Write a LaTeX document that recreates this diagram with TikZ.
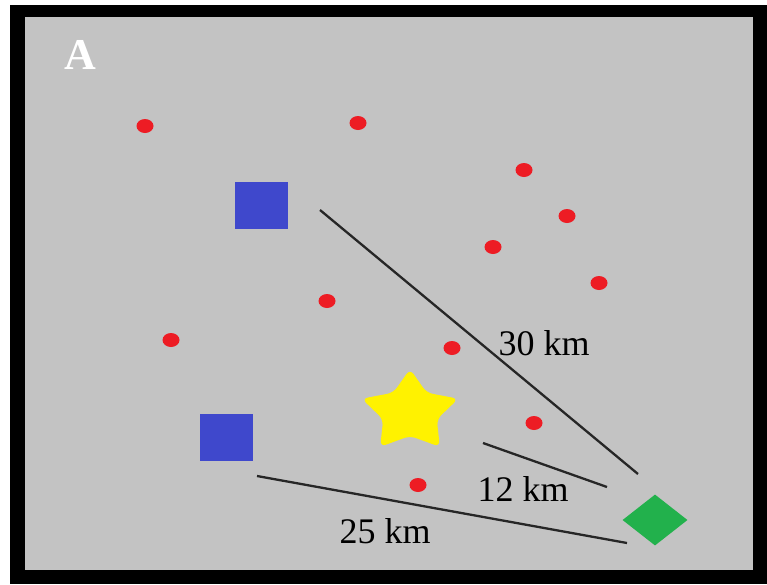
\documentclass[tikz,border=0pt]{standalone}
\usepackage{fontspec}
\setmainfont{Liberation Serif}
\usepackage{xcolor}
\usetikzlibrary{shapes.geometric}
\definecolor{paintgray}{RGB}{195,195,195}
\definecolor{paintred}{RGB}{237,28,36}
\definecolor{paintblue}{RGB}{63,72,204}
\definecolor{paintyellow}{RGB}{255,242,0}
\definecolor{paintgreen}{RGB}{34,177,76}

\begin{document}
\begin{tikzpicture}[x=1pt, y=-1pt,
  plant/.style={ellipse, fill=paintred, minimum width=17pt, minimum height=14pt, inner sep=0pt},
  site/.style={rectangle, fill=paintblue, minimum width=53pt, minimum height=47pt, inner sep=0pt},
  route/.style={line width=2.3pt, black!85},
  dist/.style={font=\fontsize{36}{40}\selectfont, inner sep=0pt}]
  \useasboundingbox (0,0) rectangle (767,584);
  \fill[black] (10,5) rectangle (767,584);
  \fill[paintgray] (25,17) rectangle (753,570);
  \node[text=white, font=\fontsize{44}{48}\selectfont\bfseries, inner sep=0pt] (panel) at (80,55) {A};
  \foreach \px/\py [count=\i] in {145/126, 358/123, 524/170, 567/216, 493/247, 599/283,
                                  327/301, 171/340, 452/348, 534/423, 418/485}
    \node[plant] (p\i) at (\px,\py) {};
  \node[site] (site1) at (261.5,205) {};
  \node[site] (site2) at (226.5,437.5) {};
  \node[star, star points=5, star point ratio=1.8, minimum size=86pt, inner sep=0pt,
        fill=paintyellow, rounded corners=6pt, xscale=1.18, transform shape] (hub) at (410,412) {};
  \node[diamond, fill=paintgreen, minimum width=65pt, minimum height=51pt, inner sep=0pt] (well) at (655,520) {};
  \coordinate (a30) at (320,210);
  \coordinate (b30) at (638,474);
  \coordinate (a12) at (483,443);
  \coordinate (b12) at (607,487);
  \coordinate (a25) at (257,476);
  \coordinate (b25) at (627,543);
  \draw[route] (a30) -- (b30);
  \draw[route] (a12) -- (b12);
  \draw[route] (a25) -- (b25);
  \node[dist] (d30) at (544,343) {30 km};
  \node[dist] (d12) at (523,489) {12 km};
  \node[dist] (d25) at (385,531) {25 km};
\end{tikzpicture}
\end{document}
